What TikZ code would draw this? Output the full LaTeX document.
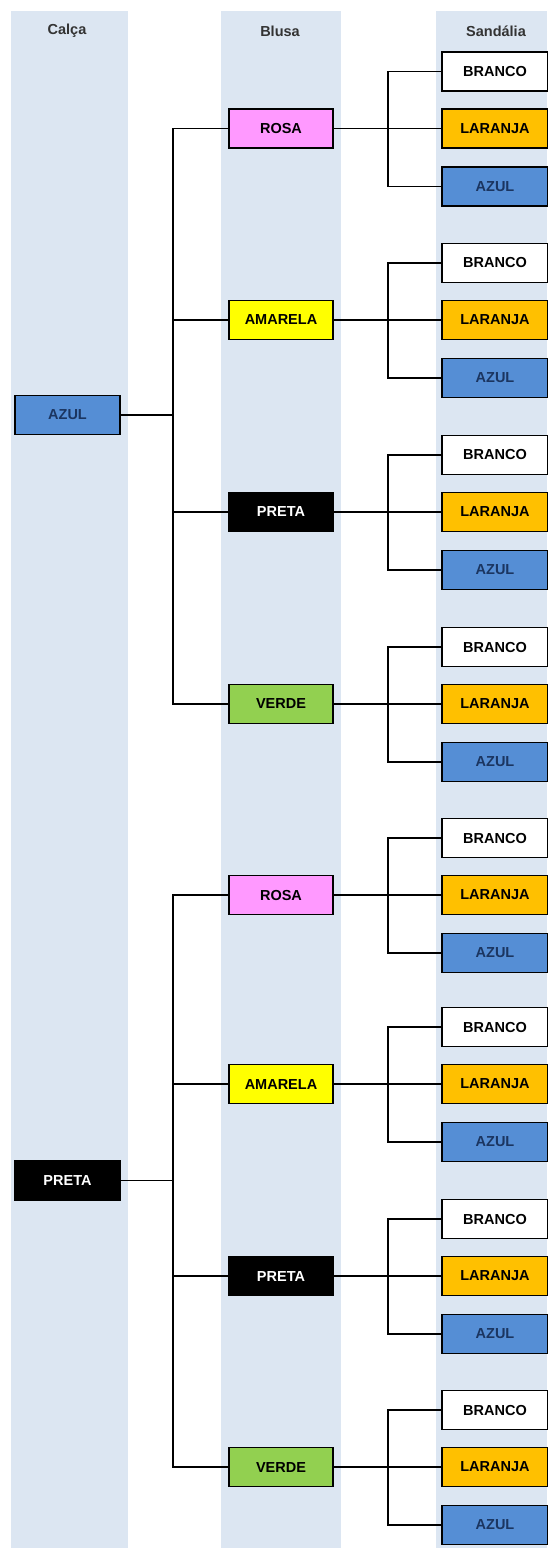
\documentclass[tikz,border=0pt]{standalone}
\usepackage{fontspec}
\setmainfont{Liberation Sans}
\definecolor{bandc}{HTML}{DCE6F2}
\definecolor{rosac}{HTML}{FF99FF}
\definecolor{amarelac}{HTML}{FFFF00}
\definecolor{verdec}{HTML}{92D050}
\definecolor{laranjac}{HTML}{FFC000}
\definecolor{azulc}{HTML}{558ED5}
\definecolor{navyc}{HTML}{1B3560}
\definecolor{hdrc}{HTML}{333333}
\begin{document}
\begin{tikzpicture}[x=1pt,y=-1pt,
  band/.style={fill=bandc, draw=none},
  box/.style={draw=black, line width=1.4pt, minimum width=104pt, minimum height=39pt,
    inner sep=0pt, font=\fontsize{14.5}{16}\selectfont\bfseries},
  hdr/.style={font=\fontsize{14.5}{16}\selectfont\bfseries, text=hdrc},
  link/.style={line width=1.5pt, draw=black}]
\useasboundingbox (0,0) rectangle (547,1548);
% column bands
\fill[band] (10.5,11) rectangle (128,1548);
\fill[band] (221,11) rectangle (341,1548);
\fill[band] (435.5,11) rectangle (547,1548);
% headers
\node[hdr] (h1) at (67,31) {Calça};
\node[hdr] (h2) at (280,31) {Blusa};
\node[hdr] (h3) at (496,31) {Sandália};
% tree
\foreach \g/\cy/\cname/\cfill/\ctext/\ya/\yb/\yc/\yd in
  {1/415/AZUL/azulc/navyc/128.5/320/512/704,
   2/1180.5/PRETA/black/white/895/1084/1276/1467}{
  \node[box, fill=\cfill, text=\ctext, minimum width=105pt] (c\g) at (67.5,\cy) {\cname};
  \coordinate (j\g) at (173,\cy);
  \draw[link] (c\g.east) -- (j\g);
  \foreach \i/\by/\bname/\bfill/\btext in
    {1/\ya/ROSA/rosac/black, 2/\yb/AMARELA/amarelac/black,
     3/\yc/PRETA/black/white, 4/\yd/VERDE/verdec/black}{
    \node[box, fill=\bfill, text=\btext] (b\g\i) at (281,\by) {\bname};
    \draw[link] (j\g) |- (b\g\i.west);
    \coordinate (k\g\i) at (388,\by);
    \foreach \j/\dy/\sname/\sfill/\stext in
      {1/-57/BRANCO/white/black, 2/0/LARANJA/laranjac/black, 3/58/AZUL/azulc/navyc}{
      \node[box, fill=\sfill, text=\stext, minimum width=106pt] (s\g\i\j) at (495,{\by+\dy}) {\sname};
    }
    \draw[link] (b\g\i.east) -- (s\g\i2.west);
    \draw[link] (k\g\i) |- (s\g\i1.west);
    \draw[link] (k\g\i) |- (s\g\i3.west);
  }
}
\end{tikzpicture}
\end{document}
